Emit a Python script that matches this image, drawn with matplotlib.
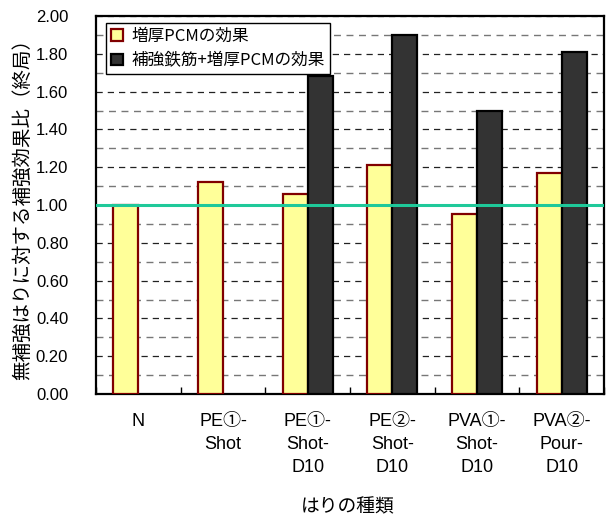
import numpy as np
import matplotlib
matplotlib.use("Agg")
import matplotlib.pyplot as plt
from matplotlib.ticker import MultipleLocator, FormatStrFormatter

plt.rcParams['font.family'] = ['Liberation Sans', 'Noto Sans CJK JP', 'DejaVu Sans']

categories = ["N", "PE①-\nShot", "PE①-\nShot-\nD10", "PE②-\nShot-\nD10",
              "PVA①-\nShot-\nD10", "PVA②-\nPour-\nD10"]
pcm_effect = [1.00, 1.12, 1.06, 1.21, 0.95, 1.17]
rebar_pcm_effect = [np.nan, np.nan, 1.68, 1.90, 1.50, 1.81]
series_labels = ["増厚PCMの効果", "補強鉄筋+増厚PCMの効果"]
reference_level = 1.0

jp = ['Noto Sans CJK JP', 'DejaVu Sans']

fig = plt.figure(figsize=(6.07, 5.18), dpi=100)
ax = fig.add_axes([96/607, 1 - 394/518, 508/607, 378/518])

x = np.arange(len(categories))
w = 0.295
ax.bar(x - w/2, pcm_effect, width=w, color="#ffff99", edgecolor="#800000",
       linewidth=1.6, label=series_labels[0], zorder=3)
ax.bar(x + w/2, rebar_pcm_effect, width=w, color="#333333", edgecolor="#000000",
       linewidth=1.6, label=series_labels[1], zorder=3)

ax.axhline(reference_level, color="#1fc99a", linewidth=2.2, zorder=4)

ax.set_xlim(-0.5, len(categories) - 0.5)
ax.set_ylim(0, 2.0)
ax.yaxis.set_major_locator(MultipleLocator(0.2))
ax.yaxis.set_minor_locator(MultipleLocator(0.1))
ax.yaxis.set_major_formatter(FormatStrFormatter("%.2f"))
ax.grid(axis="y", which="major", linestyle=(0, (5, 4)), color="#222222", linewidth=0.9, zorder=0)
ax.grid(axis="y", which="minor", linestyle=(0, (5, 4)), color="#777777", linewidth=1.0, zorder=0)

# category boundary ticks on the x axis, labels centred under each group
ax.set_xticks(np.arange(len(categories) + 1) - 0.5)
ax.set_xticklabels([])
ax.set_xticks(x, minor=True)
ax.set_xticklabels(categories, minor=True, fontsize=13, linespacing=1.45, va="top")
ax.tick_params(axis="x", which="major", direction="in", length=5, width=1)
ax.tick_params(axis="x", which="minor", length=0, pad=14)
ax.tick_params(axis="y", which="both", direction="in", length=0, labelsize=12, pad=20)

for s in ax.spines.values():
    s.set_linewidth(1.6)
    s.set_color("#000000")

ax.set_ylabel("無補強はりに対する補強効果比（終局）", fontsize=14, labelpad=2, family=jp)
fig.text(348/607, 1 - 507/518, "はりの種類", fontsize=13.5, family=jp,
         ha="center", va="center")

leg = ax.legend(loc="upper left", bbox_to_anchor=(0.02, 0.982),
                prop={'family': jp, 'size': 12},
                frameon=True, fancybox=False, edgecolor="#000000", framealpha=1,
                handlelength=0.7, handleheight=0.7, handletextpad=0.5,
                borderpad=0.3, labelspacing=0.45, borderaxespad=0)
leg.get_frame().set_linewidth(1.0)

fig.savefig("out.png", dpi=100)
